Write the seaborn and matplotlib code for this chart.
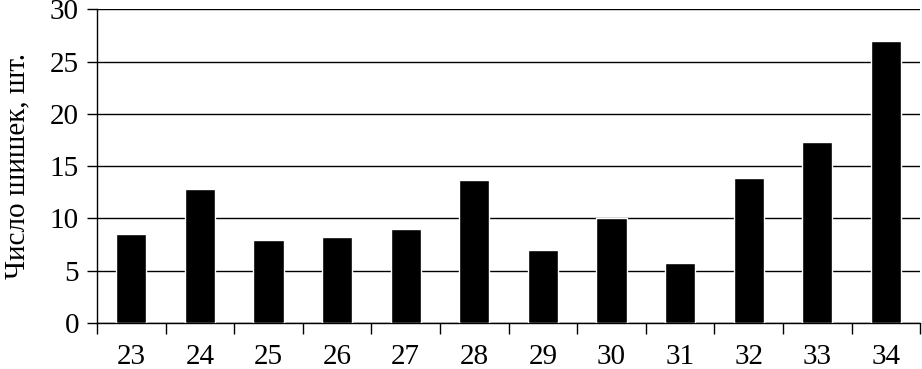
import matplotlib
matplotlib.use("Agg")
import numpy as np
import pandas as pd
import seaborn as sns
from matplotlib import pyplot as plt
from matplotlib.ticker import FixedLocator

# данные
years = ['23', '24', '25', '26', '27', '28', '29', '30', '31', '32', '33', '34']
cones = [8.5, 12.8, 7.9, 8.2, 9.0, 13.7, 7.0, 10.0, 5.7, 13.9, 17.3, 27.0]

sns.set_theme(style='white')
plt.rcParams['font.family'] = ['Liberation Serif', 'DejaVu Serif']
plt.rcParams['axes.unicode_minus'] = False

df = pd.DataFrame({'year': years, 'cones': cones})

fig = plt.figure(figsize=(9.22, 3.69), dpi=100)
ax = fig.add_axes([0.1052, 0.1247, 0.8928, 0.8496])

sns.barplot(data=df, x='year', y='cones', color='black', width=0.44,
            saturation=1, ax=ax, zorder=3)

ax.set_ylim(0, 30)
ax.set_xlim(-0.5, len(years) - 0.5)
ax.set_yticks(np.arange(0, 31, 5))
ax.yaxis.grid(True, color='black', linewidth=1.0, zorder=0)
ax.set_axisbelow(True)

for s in ['top', 'right']:
    ax.spines[s].set_visible(False)
for s in ['left', 'bottom']:
    ax.spines[s].set_color('black')
    ax.spines[s].set_linewidth(1.0)

# деления на границах категорий
ax.xaxis.set_minor_locator(FixedLocator(np.arange(-0.5, len(years), 1.0)))
ax.tick_params(axis='x', which='major', length=0, pad=15, labelsize=21, colors='black')
ax.tick_params(axis='x', which='minor', bottom=True, length=8, width=1, color='black', direction='out')
ax.tick_params(axis='y', which='major', left=True, length=7, width=1, color='black',
               direction='out', pad=6, labelsize=21, labelcolor='black')

ax.set_xlabel('')
ax.set_ylabel('Число шишек, шт.', fontsize=21, color='black', labelpad=14)

plt.savefig('out.png', dpi=100)
